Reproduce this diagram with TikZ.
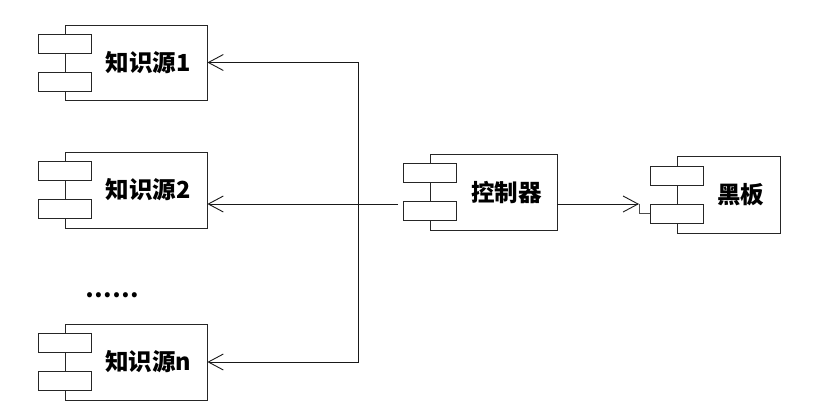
\documentclass[tikz,border=0pt]{standalone}
\usepackage{fontspec}
\setmainfont{Noto Sans CJK SC}
\usetikzlibrary{positioning}
\usetikzlibrary{arrows.meta}

\tikzset{
    component/.style={rectangle, draw=black!85, fill=white,
                      line width=0.8pt, inner sep=0pt},
    port/.style={rectangle, draw=black!85, fill=white,
                 line width=0.8pt, inner sep=0pt,
                 minimum width=53pt, minimum height=19pt},
    label_text/.style={font=\bfseries\fontsize{23.5}{26}\selectfont, inner sep=0pt},
    link/.style={draw=black!90, line width=0.9pt},
    arrow_link/.style={link, -{Straight Barb[length=15pt, width=16pt, line width=0.9pt]}}
}

\begin{document}
\begin{tikzpicture}[x=1pt, y=-1pt]

    \useasboundingbox (0,0) rectangle (814,420);

    % Knowledge sources on the left
    \node[component, minimum width=142pt, minimum height=75pt] (Source_1) at (136,62.5) {};
    \node[port] (Source_1_Port_a) at ([yshift=19pt]Source_1.west) {};
    \node[port] (Source_1_Port_b) at ([yshift=-19pt]Source_1.west) {};
    \node[label_text] (Source_1_Text) at ([xshift=12pt]Source_1.center) {知识源1};

    \node[component, minimum width=142pt, minimum height=76pt] (Source_2) at (136,190) {};
    \node[port] (Source_2_Port_a) at ([yshift=19pt]Source_2.west) {};
    \node[port] (Source_2_Port_b) at ([yshift=-19pt]Source_2.west) {};
    \node[label_text] (Source_2_Text) at ([xshift=12pt]Source_2.center) {知识源2};

    \node[label_text] (Dots) at (112,295) {……};

    \node[component, minimum width=142pt, minimum height=76pt] (Source_n) at (136,362) {};
    \node[port] (Source_n_Port_a) at ([yshift=19pt]Source_n.west) {};
    \node[port] (Source_n_Port_b) at ([yshift=-19pt]Source_n.west) {};
    \node[label_text] (Source_n_Text) at ([xshift=12pt]Source_n.center) {知识源n};

    % Controller in the middle
    \node[component, minimum width=127pt, minimum height=76pt] (Controller) at (493.5,192) {};
    \node[port] (Controller_Port_a) at ([yshift=19pt]Controller.west) {};
    \node[port] (Controller_Port_b) at ([yshift=-19pt]Controller.west) {};
    \node[label_text] (Controller_Text) at ([xshift=13pt]Controller.center) {控制器};

    % Blackboard on the right
    \node[component, minimum width=103pt, minimum height=77pt] (Blackboard) at (728.5,194.5) {};
    \node[port] (Blackboard_Port_a) at ([yshift=19pt]Blackboard.west) {};
    \node[port] (Blackboard_Port_b) at ([yshift=-19pt]Blackboard.west) {};
    \node[label_text] (Blackboard_Text) at ([xshift=12pt]Blackboard.center) {黑板};

    % Controller -> knowledge sources
    \coordinate (Ctrl_Out) at (398,204);
    \coordinate (Bus) at (358,204);
    \draw[link] (Ctrl_Out) -- (Bus);
    \draw[arrow_link] (Bus) |- (Source_1.east);
    \draw[arrow_link] (Bus) -- (Source_2.east |- Bus);
    \draw[arrow_link] (Bus) |- (Source_n.east);

    % Controller -> blackboard
    \coordinate (Board_In) at (639,204);
    \draw[arrow_link] (Controller.east |- Board_In) -- (Board_In);
    \draw[link, draw=black!70] (Board_In) |- (Blackboard_Port_b.west);

\end{tikzpicture}
\end{document}
